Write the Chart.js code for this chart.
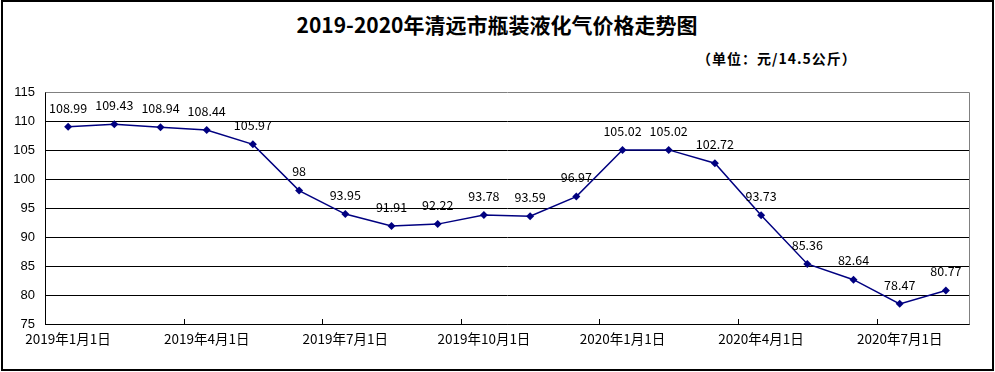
<!DOCTYPE html>
<html>
<head>
<meta charset="utf-8">
<script src="https://cdn.jsdelivr.net/npm/chart.js@4.4.1/dist/chart.umd.min.js"></script>
<style>
  html, body { margin: 0; padding: 0; background: #fff; }
  #wrap { position: relative; width: 995px; height: 372px; overflow: hidden; }
  #frame { position: absolute; left: 1px; top: 0; width: 993px; height: 371px; border: 2px solid #000; box-sizing: border-box; }
  #title { position: absolute; left: 0; top: 13px; width: 994px; text-align: center;
           font: bold 21px "Noto Sans CJK SC"; line-height: 22px; color: #000; }
  #unit { position: absolute; left: 697px; top: 51px; font: bold 14px "Noto Sans CJK SC"; line-height: 15px;
          letter-spacing: 1px; color: #000; white-space: nowrap; }
  canvas { position: absolute; left: 0; top: 0; }
</style>
</head>
<body>
<div id="wrap">
  <div id="frame"></div>
  <div id="title">2019-2020年清远市瓶装液化气价格走势图</div>
  <div id="unit">（单位：元/14.5公斤）</div>
  <canvas id="lineChart" width="995" height="372"></canvas>
</div>
<script>
// 月份（每月1日）
const dates = [
  '2019年1月1日', '2019年2月1日', '2019年3月1日', '2019年4月1日', '2019年5月1日',
  '2019年6月1日', '2019年7月1日', '2019年8月1日', '2019年9月1日', '2019年10月1日',
  '2019年11月1日', '2019年12月1日', '2020年1月1日', '2020年2月1日', '2020年3月1日',
  '2020年4月1日', '2020年5月1日', '2020年6月1日', '2020年7月1日', '2020年8月1日'
]
// 价格（元/14.5公斤）
const prices = [
  108.99, 109.43, 108.94, 108.44, 105.97, 98, 93.95, 91.91, 92.22, 93.78,
  93.59, 96.97, 105.02, 105.02, 102.72, 93.73, 85.36, 82.64, 78.47, 80.77
]
const yMin = 75
const yMax = 115
const yStep = 5

// 每个点上方的数值
const valueLabels = {
  id: 'valueLabels',
  afterDatasetsDraw(chart) {
    const ctx = chart.ctx
    const meta = chart.getDatasetMeta(0)
    ctx.save()
    ctx.font = '12.5px "Noto Sans CJK SC"'
    ctx.fillStyle = '#000'
    ctx.textAlign = 'center'
    ctx.textBaseline = 'middle'
    meta.data.forEach((pt, i) => {
      ctx.fillText(String(prices[i]), pt.x, pt.y - 19)
    })
    ctx.restore()
  }
}

// 绘图区的灰色上/右边框，以及X轴内侧刻度
const plotFrame = {
  id: 'plotFrame',
  afterDraw(chart) {
    const ctx = chart.ctx
    const a = chart.chartArea
    const x = chart.scales.x
    ctx.save()
    ctx.lineWidth = 1
    ctx.strokeStyle = '#808080'
    ctx.beginPath()
    ctx.moveTo(Math.round(a.left) + 0.5, Math.round(a.top) + 0.5)
    ctx.lineTo(Math.round(a.right) + 0.5, Math.round(a.top) + 0.5)
    ctx.lineTo(Math.round(a.right) + 0.5, Math.round(a.bottom) + 0.5)
    ctx.stroke()
    ctx.strokeStyle = '#000'
    ctx.beginPath()
    for (let i = 3; i < dates.length; i += 3) {
      const px = Math.round((x.getPixelForValue(i - 1) + x.getPixelForValue(i)) / 2) + 0.5
      ctx.moveTo(px, Math.round(a.bottom))
      ctx.lineTo(px, Math.round(a.bottom) - 5)
    }
    ctx.stroke()
    ctx.restore()
  }
}

const ctx = document.getElementById('lineChart').getContext('2d')
new Chart(ctx, {
  type: 'line',
  data: {
    labels: dates,
    datasets: [{
      data: prices,
      borderColor: '#000080',
      backgroundColor: '#000080',
      borderWidth: 1.5,
      pointStyle: 'rectRot',
      pointRadius: 4,
      pointBorderWidth: 0,
      tension: 0
    }]
  },
  options: {
    responsive: false,
    animation: false,
    layout: { padding: { left: 0, top: 92, right: 26, bottom: 0 } },
    plugins: {
      legend: { display: false },
      tooltip: { enabled: false }
    },
    scales: {
      x: {
        offset: true,
        afterFit(s) { s.height = 48 },
        grid: { drawOnChartArea: false, drawTicks: false },
        border: { color: '#000', width: 1 },
        ticks: {
          autoSkip: false,
          maxRotation: 0,
          padding: 7,
          color: '#000',
          font: { family: '"Noto Sans CJK SC"', size: 13.5 },
          callback(v, i) { return i % 3 === 0 ? dates[i] : '' }
        }
      },
      y: {
        min: yMin,
        max: yMax,
        afterFit(s) { s.width = 45 },
        grid: {
          drawTicks: false,
          color: (c) => (c.tick && c.tick.value === yMax ? 'rgba(0,0,0,0)' : '#000')
        },
        border: { color: '#000', width: 1 },
        ticks: {
          stepSize: yStep,
          padding: 10,
          color: '#000',
          font: { family: '"Liberation Sans"', size: 13 }
        }
      }
    }
  },
  plugins: [valueLabels, plotFrame]
})
</script>
</body>
</html>
